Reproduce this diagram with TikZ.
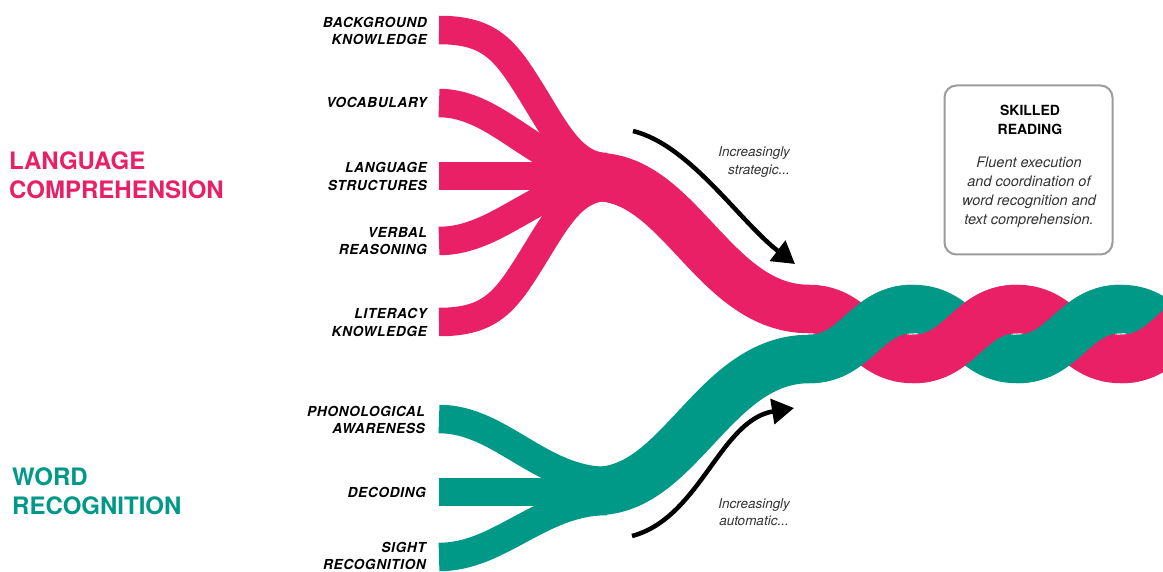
\documentclass[tikz,border=0pt]{standalone}
\usepackage{fontspec}
\setmainfont{TeX Gyre Heros}
\newfontfamily\lblfont[LetterSpace=4]{TeX Gyre Heros}
\usetikzlibrary{arrows.meta}
\definecolor{rpink}{HTML}{E92066}
\definecolor{rteal}{HTML}{009988}
\definecolor{txtgray}{HTML}{333333}
\definecolor{boxgray}{HTML}{9B9B9B}
\begin{document}
\begin{tikzpicture}[x=1pt,y=-1pt,
  strand/.style={line width=28.5pt},
  trunk/.style={line width=48.5pt},
  lbl/.style={font=\lblfont\fontsize{13.8}{17.7}\selectfont\bfseries\itshape, align=right, anchor=east, inner sep=0pt},
  biglbl/.style={font=\fontsize{24}{29}\selectfont\bfseries, align=left, anchor=west, inner sep=0pt},
  arrowline/.style={line width=4.5pt, -{Triangle[length=22pt,width=25pt]}},
  note/.style={font=\fontsize{13.5}{17.5}\selectfont\itshape, text=txtgray, align=right, inner sep=0pt},
]
\useasboundingbox (0,0) rectangle (1163,572);
\clip (0,0) rectangle (1163,572);

% ---- pink strands ----
\draw[rpink,strand] (439,30) .. controls (490,30) and (505,50) .. (530,90) .. controls (555,130) and (572,167) .. (607,167);
\draw[rpink,strand] (439,103) .. controls (500,103) and (540,172) .. (607,172);
\draw[rpink,strand] (439,176) -- (607,176);
\draw[rpink,strand] (439,241) .. controls (500,241) and (540,182) .. (607,182);
\draw[rpink,strand] (439,322) .. controls (490,322) and (505,302) .. (530,262) .. controls (555,222) and (572,187) .. (607,187);

% ---- teal strands ----
\draw[rteal,strand] (439,419) .. controls (500,419) and (540,481) .. (607,481);
\draw[rteal,strand] (439,492) -- (607,492);
\draw[rteal,strand] (439,557) .. controls (500,557) and (540,501) .. (607,501);

% ---- trunks + braid (base) ----
\draw[rpink,trunk] (596,177) .. controls (680,177) and (714,309) .. (809,309)
  .. controls (857,309) and (865,359) .. (913,359)
  .. controls (961,359) and (969,309) .. (1017,309)
  .. controls (1065,309) and (1073,359) .. (1121,359)
  .. controls (1169,359) and (1177,309) .. (1225,309);
\draw[rteal,trunk] (596,491) .. controls (680,491) and (714,359) .. (809,359)
  .. controls (857,359) and (865,309) .. (913,309)
  .. controls (961,309) and (969,359) .. (1017,359)
  .. controls (1065,359) and (1073,309) .. (1121,309)
  .. controls (1169,309) and (1177,359) .. (1225,359);
% ---- over crossings ----
\draw[rteal,trunk] (809,359) .. controls (857,359) and (865,309) .. (913,309);
\draw[rpink,trunk] (913,359) .. controls (961,359) and (969,309) .. (1017,309);
\draw[rteal,trunk] (1017,359) .. controls (1065,359) and (1073,309) .. (1121,309);
\draw[rpink,trunk] (1121,359) .. controls (1169,359) and (1177,309) .. (1225,309);

% ---- strand labels ----
\node[lbl] (bk) at (427,31) {BACKGROUND\\KNOWLEDGE};
\node[lbl] (voc) at (427,102) {VOCABULARY};
\node[lbl] (ls) at (427,176.5) {LANGUAGE\\STRUCTURES};
\node[lbl] (vr) at (427,241) {VERBAL\\REASONING};
\node[lbl] (lk) at (427,322.5) {LITERACY\\KNOWLEDGE};
\node[lbl] (pa) at (425,420) {PHONOLOGICAL\\AWARENESS};
\node[lbl] (dec) at (426,492) {DECODING};
\node[lbl] (sr) at (426,556) {SIGHT\\RECOGNITION};

% ---- big labels ----
\node[biglbl, text=rpink] (lc) at (9,175.5) {LANGUAGE\\COMPREHENSION};
\node[biglbl, text=rteal] (wr) at (12,491) {WORD\\RECOGNITION};

% ---- arrows ----
\coordinate (s1) at (633,131);
\coordinate (e1) at (795,264);
\draw[arrowline] (s1) .. controls (690,145) and (740,222) .. (e1);
\coordinate (s2) at (632,536);
\coordinate (e2) at (794,408);
\draw[arrowline] (s2) .. controls (700,518) and (720,420) .. (e2);
\node[note, anchor=east] (strat) at (790,162) {Increasingly\\strategic...};
\node[note, align=center] (auto) at (754,512) {Increasingly\\automatic...};

% ---- skilled reading box ----
\node[draw=boxgray, line width=2pt, rounded corners=12pt, minimum width=168pt, minimum height=169pt, inner sep=0pt] (box) at (1028.5,170) {};
\node[font=\fontsize{14}{19}\selectfont\bfseries, align=center, inner sep=0pt] (title) at (1030,119.5) {SKILLED\\READING};
\node[font=\fontsize{14.5}{19}\selectfont\itshape, text=txtgray, align=center, inner sep=0pt] (body) at (1029,192) {Fluent execution\\and coordination of\\word recognition and\\text comprehension.};
\end{tikzpicture}
\end{document}
